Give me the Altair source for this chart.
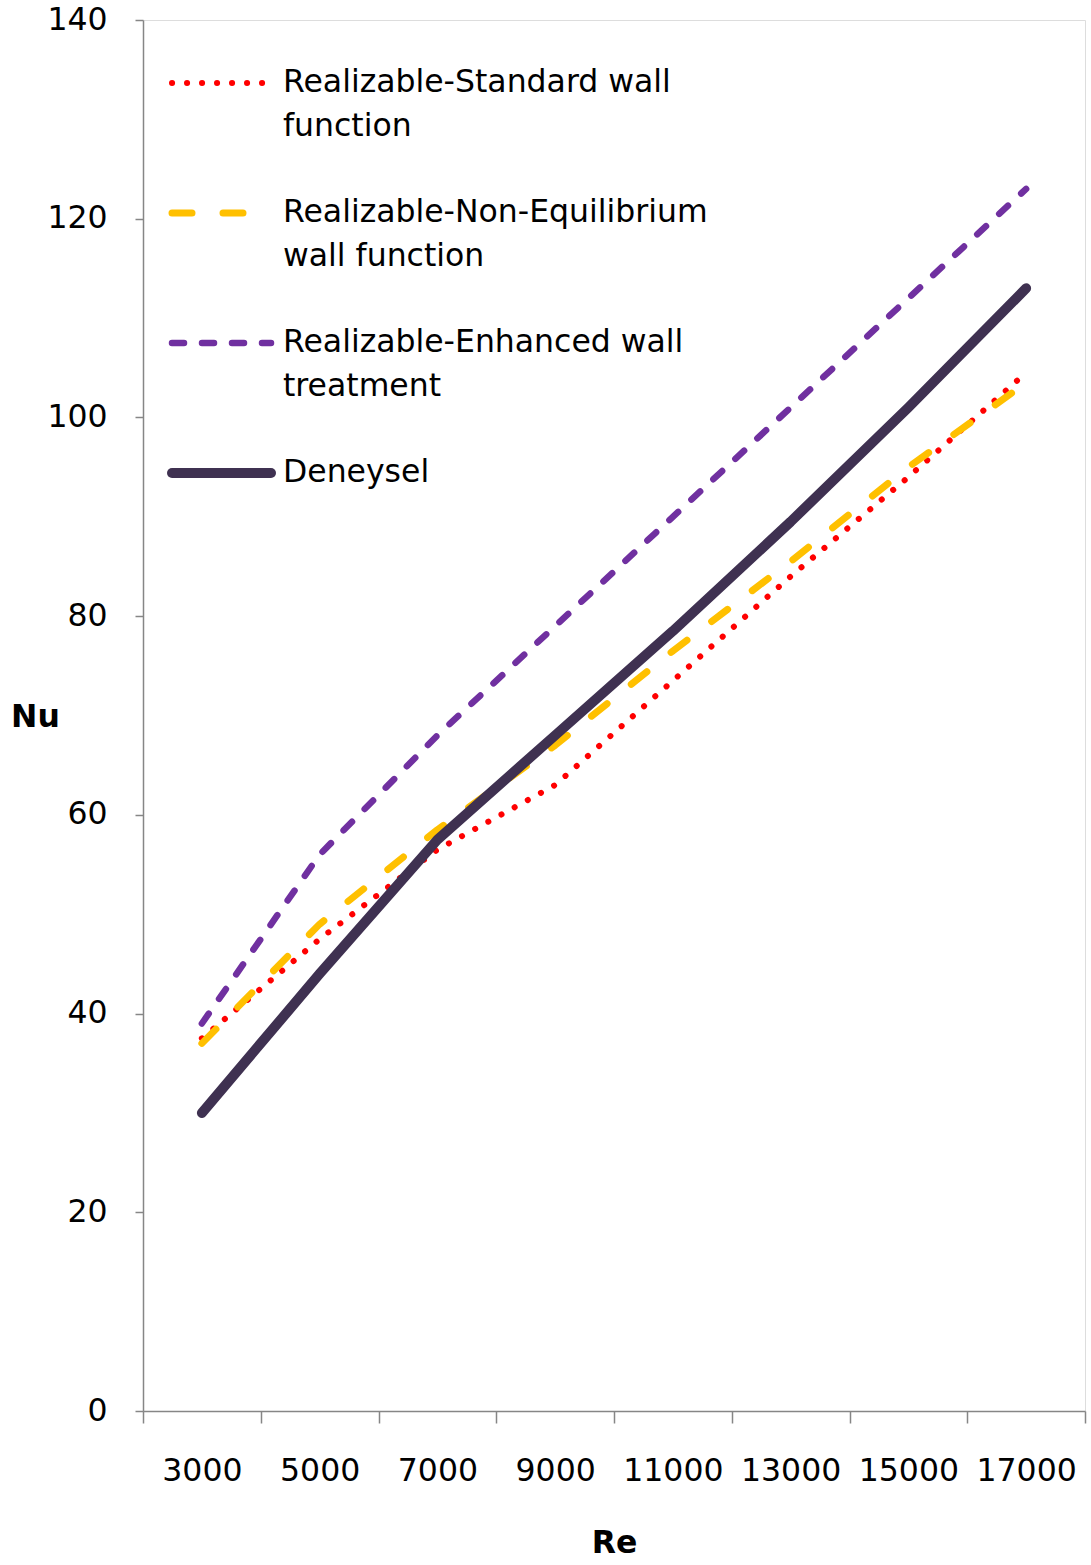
import altair as alt
import pandas as pd

# ---- data ----
re_labels = ["3000", "5000", "7000", "9000", "11000", "13000", "15000", "17000"]
standard = [37.5, 47.5, 56.5, 63.0, 73.5, 84.0, 94.0, 104.5]
non_equilibrium = [37.0, 49.0, 58.5, 67.0, 76.5, 85.5, 95.0, 103.5]
enhanced = [39.0, 56.0, 68.0, 79.0, 90.0, 101.0, 112.0, 123.0]
deneysel = [30.0, 44.0, 57.5, 68.0, 78.5, 89.5, 101.0, 113.0]

series_names = [
    "Realizable-Standard wall function",
    "Realizable-Non-Equilibrium wall function",
    "Realizable-Enhanced wall treatment",
    "Deneysel",
]
legend_lines = [
    ["Realizable-Standard wall", "function"],
    ["Realizable-Non-Equilibrium", "wall function"],
    ["Realizable-Enhanced wall", "treatment"],
    ["Deneysel"],
]
series_values = [standard, non_equilibrium, enhanced, deneysel]

# ---- styles ----
colors = ["#ff0000", "#ffc000", "#7030a0", "#3f3151"]
widths = [6, 7, 6.5, 10]
dashes = [[0.1, 14.9], [20, 31], [12, 18], None]

FONT = "DejaVu Sans"
FS = 31.5
W, H = 942, 1391

rows = []
for name, vals in zip(series_names, series_values):
    for r, v in zip(re_labels, vals):
        rows.append({"Re": r, "Nu": v, "series": name})
df = pd.DataFrame(rows)

x_enc = alt.X(
    "Re:O",
    sort=re_labels,
    bandPosition=0.5,
    scale=alt.Scale(type="band", paddingInner=0, paddingOuter=0),
    axis=alt.Axis(
        title="Re",
        tickBand="extent",
        labelAngle=0,
        labelFont=FONT,
        labelFontSize=FS,
        labelColor="#000000",
        labelPadding=32,
        tickSize=12,
        tickColor="#868686",
        tickWidth=1.5,
        domainColor="#868686",
        domainWidth=1.5,
        grid=False,
        titleFont=FONT,
        titleFontSize=FS,
        titleFontWeight="bold",
        titleColor="#000000",
        titleBaseline="middle",
        titleAlign="center",
        titleX=W / 2,
        titleY=132,
    ),
)
y_enc = alt.Y(
    "Nu:Q",
    scale=alt.Scale(domain=[0, 140], nice=False, zero=True),
    axis=alt.Axis(
        title="Nu",
        values=[0, 20, 40, 60, 80, 100, 120, 140],
        labelFont=FONT,
        labelFontSize=FS,
        labelColor="#000000",
        labelPadding=28,
        tickSize=8,
        tickColor="#868686",
        tickWidth=1.5,
        domainColor="#868686",
        domainWidth=1.5,
        grid=False,
        titleFont=FONT,
        titleFontSize=FS,
        titleFontWeight="bold",
        titleColor="#000000",
        titleAngle=0,
        titleAlign="center",
        titleBaseline="middle",
        titleX=-108,
        titleY=697,
    ),
)

layers = []
for i, name in enumerate(series_names):
    kw = dict(color=colors[i], strokeWidth=widths[i], strokeCap="round", strokeJoin="round")
    if dashes[i] is not None:
        kw["strokeDash"] = dashes[i]
    layers.append(
        alt.Chart(df)
        .transform_filter(alt.datum.series == name)
        .mark_line(**kw)
        .encode(x=x_enc, y=y_enc)
    )

# ---- manual legend inside the plot area (top-left) ----
LEG_X0, LEG_X1, TXT_X = 29, 128, 140
LEG_Y0, ROW_STEP, LINE_H = 63, 130, 44
for i, name in enumerate(series_names):
    yy = LEG_Y0 + ROW_STEP * i
    kw = dict(color=colors[i], strokeWidth=widths[i], strokeCap="round")
    if dashes[i] is not None:
        kw["strokeDash"] = dashes[i]
    one = pd.DataFrame({"series": [name]})
    layers.append(
        alt.Chart(one).mark_rule(**kw).encode(
            x=alt.value(LEG_X0), x2=alt.value(LEG_X1), y=alt.value(yy)
        )
    )
    for j, line in enumerate(legend_lines[i]):
        layers.append(
            alt.Chart(pd.DataFrame({"t": [line]}))
            .mark_text(align="left", baseline="middle", font=FONT, fontSize=FS, color="#000000")
            .encode(text="t:N", x=alt.value(TXT_X), y=alt.value(yy + LINE_H * j))
        )

chart = (
    alt.layer(*layers)
    .properties(
        width=W,
        height=H,
        autosize=alt.AutoSizeParams(type="none"),
        padding={"left": 143, "top": 20, "right": 6, "bottom": 154},
    )
    .configure_view(stroke=None)
    .configure(background="white")
)

chart.save("out.html", embed_options={"renderer": "svg", "actions": False})
